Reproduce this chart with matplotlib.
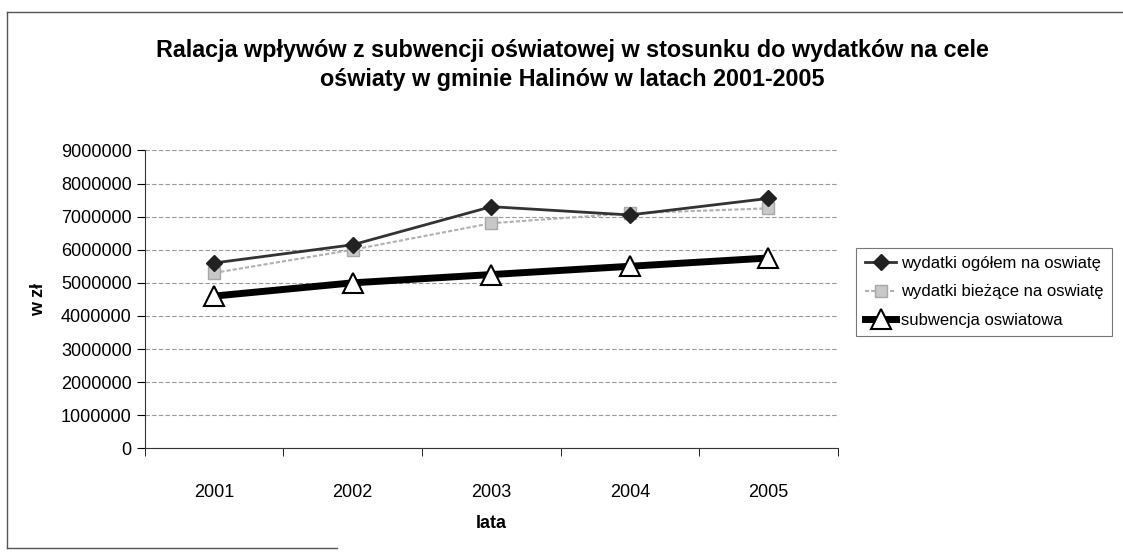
import matplotlib
matplotlib.use('Agg')
import matplotlib.pyplot as plt
from matplotlib.lines import Line2D

plt.rcParams['font.family'] = ['Liberation Sans', 'DejaVu Sans']

# dane
lata = ['2001', '2002', '2003', '2004', '2005']
wydatki_ogolem = [5600000, 6150000, 7300000, 7050000, 7550000]
wydatki_biezace = [5300000, 6000000, 6800000, 7100000, 7250000]
subwencja = [4600000, 5000000, 5250000, 5500000, 5750000]
y_ticks = [0, 1000000, 2000000, 3000000, 4000000, 5000000, 6000000, 7000000, 8000000, 9000000]

fig = plt.figure(figsize=(11.23, 5.57), dpi=100)
ax = fig.add_axes([0.129, 0.195, 0.617, 0.535])

x = list(range(len(lata)))
ax.plot(x, wydatki_ogolem, color='#333333', lw=2, marker='D', ms=8,
        mfc='#222222', mec='#222222', label='wydatki ogółem na oswiatę', zorder=4)
ax.plot(x, wydatki_biezace, color='#b0b0b0', lw=1.5, ls=(0, (2, 1)), marker='s', ms=9,
        mfc='#c8c8c8', mec='#a8a8a8', label='wydatki bieżące na oswiatę', zorder=3)
ax.plot(x, subwencja, color='black', lw=5, marker='^', ms=14,
        mfc='white', mec='black', mew=1.5, label='subwencja oswiatowa', zorder=5)

ax.set_xlim(-0.5, len(lata) - 0.5)
ax.set_ylim(0, 9000000)
ax.set_yticks(y_ticks)
ax.set_yticklabels([str(v) for v in y_ticks], fontsize=13)
ax.set_xticks(x)
ax.set_xticklabels(lata, fontsize=13)
ax.tick_params(axis='x', length=0, pad=26)
ax.set_xticks([i + 0.5 for i in range(-1, len(lata))], minor=True)
ax.tick_params(axis='x', which='minor', length=6, direction='out')
ax.tick_params(axis='y', length=6, direction='out')

ax.grid(axis='y', color='#999999', lw=0.8, ls=(0, (4, 2)))
ax.set_axisbelow(True)
for s in ['top', 'right']:
    ax.spines[s].set_visible(False)
ax.spines['left'].set_color('#333333')
ax.spines['bottom'].set_color('#333333')

ax.set_ylabel('w zł', fontsize=13, fontweight='bold', labelpad=10)
ax.set_xlabel('lata', fontsize=13, fontweight='bold', labelpad=10)

fig.suptitle('Ralacja wpływów z subwencji oświatowej w stosunku do wydatków na cele\n'
             'oświaty w gminie Halinów w latach 2001-2005',
             x=0.51, y=0.93, fontsize=16.8, fontweight='bold', linespacing=1.35)

leg = ax.legend(loc='center left', bbox_to_anchor=(1.015, 0.525), fontsize=12,
                frameon=True, fancybox=False, edgecolor='#555555',
                handlelength=1.9, borderpad=0.5, labelspacing=0.8, handletextpad=0.3)
leg.get_frame().set_linewidth(0.8)

# ramka wykresu
fig.add_artist(Line2D([0.006, 1.0], [0.978, 0.978], color='#555555', lw=1))
fig.add_artist(Line2D([0.006, 0.006], [0.978, 0.016], color='#555555', lw=1))
fig.add_artist(Line2D([0.006, 0.3], [0.016, 0.016], color='#555555', lw=1))

fig.savefig('out.png', dpi=100)
